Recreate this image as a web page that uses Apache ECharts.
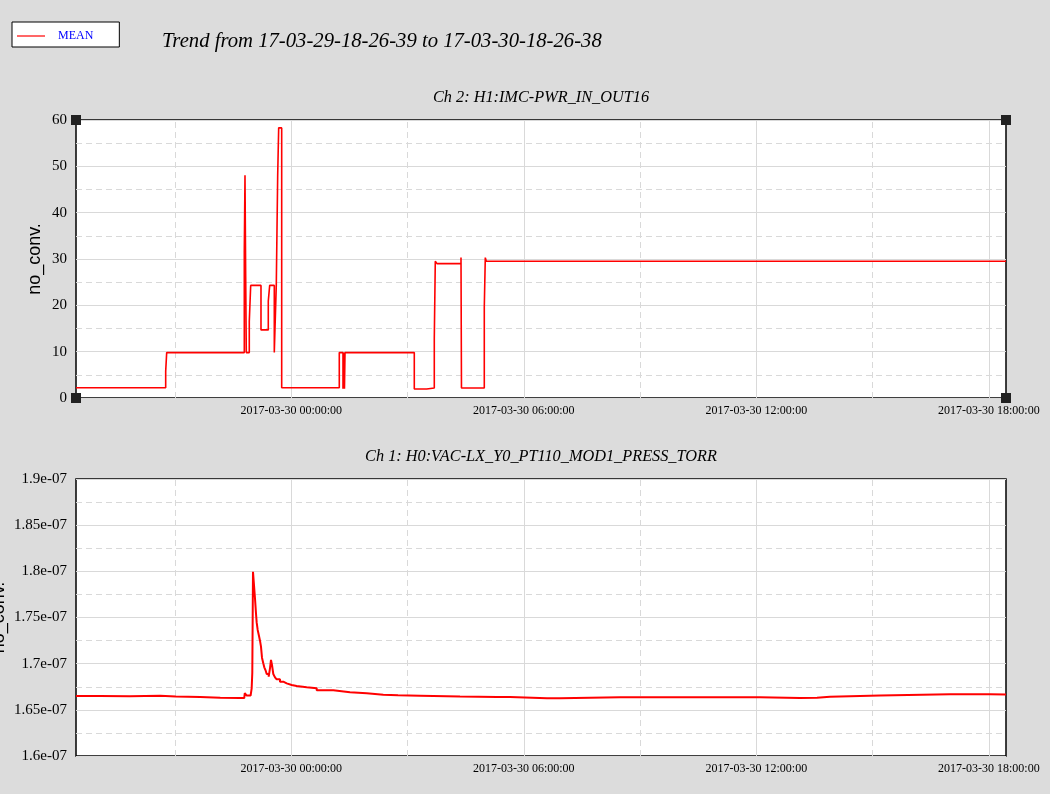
<!DOCTYPE html>
<html><head><meta charset="utf-8">
<script src="https://cdn.jsdelivr.net/npm/echarts@6/dist/echarts.min.js"></script>
<style>html,body{margin:0;padding:0;background:#dcdcdc}#c{width:1050px;height:794px}</style>
</head><body><div id="c"></div><script>
// ---- data ----
const mainTitle = 'Trend from 17-03-29-18-26-39 to 17-03-30-18-26-38';
const ch2Title = 'Ch 2: H1:IMC-PWR_IN_OUT16';
const ch1Title = 'Ch 1: H0:VAC-LX_Y0_PT110_MOD1_PRESS_TORR';
const seriesName = 'MEAN';
const yName = 'no_conv.';
const tStart = '2017-03-29 18:26:39';
const tEnd = '2017-03-30 18:26:38';
const xLabelTimes = ['2017-03-30 00:00:00', '2017-03-30 06:00:00', '2017-03-30 12:00:00', '2017-03-30 18:00:00'];
const xMinorTimes = ['2017-03-29 21:00:00', '2017-03-30 03:00:00', '2017-03-30 09:00:00', '2017-03-30 15:00:00'];

const ch2Times = [
  '2017-03-29 18:26:39', '2017-03-29 20:45:31', '2017-03-29 20:47:04', '2017-03-29 22:47:14',
  '2017-03-29 22:48:19', '2017-03-29 22:49:24', '2017-03-29 22:50:19', '2017-03-29 22:54:58',
  '2017-03-29 22:57:08', '2017-03-29 23:13:05', '2017-03-29 23:24:23', '2017-03-29 23:26:33',
  '2017-03-29 23:33:41', '2017-03-29 23:36:46', '2017-03-29 23:38:56', '2017-03-29 23:40:29',
  '2017-03-29 23:45:08', '2017-03-30 01:14:19', '2017-03-30 01:20:03', '2017-03-30 01:21:20',
  '2017-03-30 01:22:20', '2017-03-30 01:23:10', '2017-03-30 03:10:27', '2017-03-30 03:29:39',
  '2017-03-30 03:41:25', '2017-03-30 03:42:58', '2017-03-30 03:45:36', '2017-03-30 04:22:46',
  '2017-03-30 04:23:30', '2017-03-30 04:58:50', '2017-03-30 05:00:23', '2017-03-30 05:01:56',
  '2017-03-30 18:26:38'
];
const ch2Values = [
  2.2, 5.8, 9.8, 31.6,
  48.1, 26.0, 9.8, 16.5,
  24.3, 14.7, 20.9, 24.3,
  9.8, 24.3, 48.1, 58.3,
  2.2, 9.8, 2.0, 9.8,
  2.0, 9.8, 1.95, 2.15,
  12.9, 29.5, 29.0, 30.3,
  2.17, 19.6, 30.3, 29.5,
  29.5
];

const ch1Times = [
  '2017-03-29 18:26:39', '2017-03-29 19:04:00', '2017-03-29 19:50:00', '2017-03-29 20:37:00',
  '2017-03-29 21:01:00', '2017-03-29 21:39:00', '2017-03-29 22:10:00', '2017-03-29 22:41:00',
  '2017-03-29 22:47:10', '2017-03-29 22:48:00', '2017-03-29 22:49:48', '2017-03-29 22:51:00',
  '2017-03-29 22:57:00', '2017-03-29 22:58:40', '2017-03-29 22:59:37', '2017-03-29 23:00:42',
  '2017-03-29 23:02:43', '2017-03-29 23:03:47', '2017-03-29 23:05:20', '2017-03-29 23:06:26',
  '2017-03-29 23:07:58', '2017-03-29 23:10:00', '2017-03-29 23:11:32', '2017-03-29 23:13:05',
  '2017-03-29 23:14:38', '2017-03-29 23:16:38', '2017-03-29 23:18:11', '2017-03-29 23:20:22',
  '2017-03-29 23:21:55', '2017-03-29 23:25:01', '2017-03-29 23:27:01', '2017-03-29 23:28:34',
  '2017-03-29 23:30:07', '2017-03-29 23:32:08', '2017-03-29 23:34:46', '2017-03-29 23:37:23',
  '2017-03-29 23:42:30', '2017-03-29 23:47:37', '2017-03-29 23:52:53', '2017-03-30 00:00:37',
  '2017-03-30 00:08:22', '2017-03-30 00:23:51', '2017-03-30 00:39:20', '2017-03-30 01:05:02',
  '2017-03-30 01:30:53', '2017-03-30 01:56:45', '2017-03-30 02:22:27', '2017-03-30 02:45:13',
  '2017-03-30 03:19:17', '2017-03-30 04:21:13', '2017-03-30 05:18:31', '2017-03-30 05:38:38',
  '2017-03-30 06:35:56', '2017-03-30 06:56:04', '2017-03-30 08:28:58', '2017-03-30 10:32:50',
  '2017-03-30 12:05:44', '2017-03-30 12:25:52', '2017-03-30 13:07:40', '2017-03-30 13:33:59',
  '2017-03-30 13:54:07', '2017-03-30 14:56:04', '2017-03-30 15:11:32', '2017-03-30 16:59:56',
  '2017-03-30 18:01:52', '2017-03-30 18:26:38'
];
const ch1Values = [
  1.6650e-7, 1.6648e-7, 1.6652e-7, 1.6645e-7,
  1.6640e-7, 1.6630e-7, 1.6627e-7, 1.6628e-7,
  1.6632e-7, 1.6680e-7, 1.6670e-7, 1.6655e-7,
  1.6655e-7, 1.6733e-7, 1.6900e-7, 1.7996e-7,
  1.7980e-7, 1.7708e-7, 1.7545e-7, 1.7444e-7,
  1.7365e-7, 1.7300e-7, 1.7249e-7, 1.7184e-7,
  1.7065e-7, 1.7004e-7, 1.6961e-7, 1.6924e-7,
  1.6888e-7, 1.6859e-7, 1.6950e-7, 1.7040e-7,
  1.6986e-7, 1.6888e-7, 1.6852e-7, 1.6830e-7,
  1.6805e-7, 1.6787e-7, 1.6769e-7, 1.6758e-7,
  1.6744e-7, 1.6733e-7, 1.6711e-7, 1.6690e-7,
  1.6679e-7, 1.6664e-7, 1.6657e-7, 1.6653e-7,
  1.6645e-7, 1.6640e-7, 1.6638e-7, 1.6626e-7,
  1.6626e-7, 1.6635e-7, 1.6637e-7, 1.6636e-7,
  1.6634e-7, 1.6628e-7, 1.6630e-7, 1.6642e-7,
  1.6652e-7, 1.6654e-7, 1.6668e-7, 1.6668e-7,
  1.6666e-7, 1.6662e-7
];
const ch2YMin = 0, ch2YMax = 60, ch2YStep = 10;
const ch1YMin = 1.6e-7, ch1YMax = 1.9e-7, ch1YStep = 0.05e-7;

// ---- layout / style ----
const G1 = {left: 76, top: 120, width: 930, height: 278};
const G2 = {left: 76, top: 479, width: 930, height: 277};
const SERIF = 'Liberation Serif';
const SANS = 'Liberation Sans';
const GRIDC = '#d9d9d9';

const parseT = t => echarts.time.parse(t).getTime();
const fmtTime = v => echarts.time.format(v, '{yyyy}-{MM}-{dd} {HH}:{mm}:{ss}', false);
const fmtExp = v => Number(Number(v).toPrecision(4)).toExponential().replace(/e([+-])(\d)$/, 'e$10$2');
const zip = (a, b) => a.map((t, i) => [parseT(t), b[i]]);

function xAxisCfg(gi) {
  return {
    type: 'value', gridIndex: gi, min: parseT(tStart), max: parseT(tEnd),
    axisLine: {show: false}, axisTick: {show: false}, splitLine: {show: false},
    axisLabel: {
      customValues: xLabelTimes.map(parseT), formatter: fmtTime, margin: 7,
      fontFamily: SERIF, fontSize: 12, color: '#000', hideOverlap: false
    }
  };
}
function yAxisCfg(gi, mn, mx, step, fmt, gap) {
  return {
    type: 'value', gridIndex: gi, min: mn, max: mx, interval: step,
    name: yName, nameLocation: 'middle', nameGap: gap, nameRotate: 90, nameMoveOverlap: false,
    nameTextStyle: {fontFamily: SANS, fontSize: 18, color: '#000'},
    axisLine: {show: false}, axisTick: {show: false},
    axisLabel: {formatter: fmt, margin: 9, fontFamily: SERIF, fontSize: 15, color: '#000'},
    splitLine: {show: true, lineStyle: {color: GRIDC, width: 1, type: 'solid'}},
    minorTick: {show: false, splitNumber: 2},
    minorSplitLine: {show: true, lineStyle: {color: GRIDC, width: 1, type: [6, 4]}}
  };
}
function vGrid() {
  return {
    silent: true, symbol: 'none', z: 1, animation: false,
    label: {show: false},
    lineStyle: {color: GRIDC, width: 1},
    data: xLabelTimes.map(t => ({xAxis: parseT(t), lineStyle: {type: 'solid', color: GRIDC}}))
      .concat(xMinorTimes.map(t => ({xAxis: parseT(t), lineStyle: {type: [6, 4], color: GRIDC}})))
  };
}

const chart = echarts.init(document.getElementById('c'), null, {renderer: 'canvas'});
const corner = (x, y) => ({type: 'rect', shape: {x: x - 5, y: y - 5, width: 10, height: 10}, style: {fill: '#222'}, z: 100});

chart.setOption({
  backgroundColor: '#dcdcdc',
  animation: false,
  title: [
    {text: mainTitle, left: 162, top: 31, padding: 0,
     textStyle: {fontFamily: SERIF, fontStyle: 'italic', fontWeight: 'normal', fontSize: 20.7, color: '#000'}},
    {text: ch2Title, left: G1.left + G1.width / 2, textAlign: 'center', top: 90, padding: 0,
     textStyle: {fontFamily: SERIF, fontStyle: 'italic', fontWeight: 'normal', fontSize: 16.3, color: '#000'}},
    {text: ch1Title, left: G2.left + G2.width / 2, textAlign: 'center', top: 449, padding: 0,
     textStyle: {fontFamily: SERIF, fontStyle: 'italic', fontWeight: 'normal', fontSize: 16.3, color: '#000'}}
  ],
  legend: {
    left: 12, top: 22, padding: [8, 26, 5, 5],
    backgroundColor: '#fff', borderColor: '#000', borderWidth: 1, borderRadius: 0,
    itemWidth: 28, itemHeight: 1.2, icon: 'rect',
    data: [{name: seriesName, itemStyle: {color: '#ff0000'}}],
    formatter: '{a|{name}}',
    textStyle: {rich: {a: {fontFamily: SERIF, fontSize: 12, color: '#0000ff', padding: [0, 0, 0, 8]}}},
    selectedMode: false
  },
  grid: [
    Object.assign({show: true, backgroundColor: '#fff', borderColor: '#000', borderWidth: 1.5, containLabel: false, outerBoundsMode: 'none'}, G1),
    Object.assign({show: true, backgroundColor: '#fff', borderColor: '#000', borderWidth: 1.5, containLabel: false, outerBoundsMode: 'none'}, G2)
  ],
  xAxis: [xAxisCfg(0), xAxisCfg(1)],
  yAxis: [
    yAxisCfg(0, ch2YMin, ch2YMax, ch2YStep, v => String(v), 32),
    yAxisCfg(1, ch1YMin, ch1YMax, ch1YStep, fmtExp, 68)
  ],
  series: [
    {name: seriesName, type: 'line', xAxisIndex: 0, yAxisIndex: 0, step: 'end', symbol: 'none',
     lineStyle: {color: '#ff0000', width: 1.6}, itemStyle: {color: '#ff0000'},
     data: zip(ch2Times, ch2Values), markLine: vGrid()},
    {name: seriesName, type: 'line', xAxisIndex: 1, yAxisIndex: 1, step: 'end', symbol: 'none',
     lineStyle: {color: '#ff0000', width: 2}, itemStyle: {color: '#ff0000'},
     data: zip(ch1Times, ch1Values), markLine: vGrid()}
  ],
  graphic: [
    corner(G1.left, G1.top), corner(G1.left + G1.width, G1.top),
    corner(G1.left, G1.top + G1.height), corner(G1.left + G1.width, G1.top + G1.height)
  ]
});
</script></body></html>
